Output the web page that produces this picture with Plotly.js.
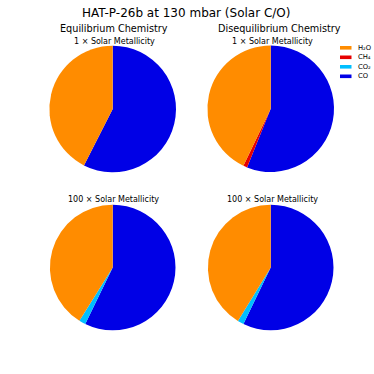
<!DOCTYPE html>
<html>
<head>
<meta charset="utf-8">
<script src="https://cdn.plot.ly/plotly-3.0.1.min.js"></script>
<style>html,body{margin:0;padding:0;background:#fff;}#chart{width:374px;height:374px;}</style>
</head>
<body>
<div id="chart"></div>
<script>
const species = ["H₂O", "CH₄", "CO₂", "CO"];
const colors = ["#ff8c00", "#e60000", "#00bfff", "#0000e6"];
const eq1x = [0.425, 0.0, 0.0, 0.575];
const diseq1x = [0.429, 0.010, 0.0, 0.561];
const eq100x = [0.411, 0.0, 0.017, 0.572];
const diseq100x = [0.4125, 0.0, 0.016, 0.5715];
const columnTitles = ["Equilibrium Chemistry", "Disequilibrium Chemistry"];
const rowTitles = ["1 × Solar Metallicity", "100 × Solar Metallicity"];
const mainTitle = "HAT-P-26b at 130 mbar (Solar C/O)";

const W = 374, H = 374;
function dom(cx, cy, r) {
  return {x: [(cx - r) / W, (cx + r) / W], y: [(H - cy - r) / H, (H - cy + r) / H]};
}
const pies = [
  {v: eq1x, d: dom(112.7, 109, 63.3)},
  {v: diseq1x, d: dom(270.7, 108.7, 63.3)},
  {v: eq100x, d: dom(112.7, 267.5, 62.8)},
  {v: diseq100x, d: dom(270.7, 267.5, 62.8)}
];
// Drawn clockwise with the species order reversed, which gives H2O counter-clockwise from 12 o'clock
const rev = a => a.slice().reverse();
const data = pies.map((p) => ({
  type: "pie",
  labels: rev(species),
  values: rev(p.v),
  domain: p.d,
  sort: false,
  direction: "clockwise",
  rotation: 0,
  textinfo: "none",
  hoverinfo: "label+percent",
  marker: {colors: rev(colors), line: {width: 0}},
  showlegend: false
}));

function ann(text, x, y, size, anchor) {
  return {text: text, x: x / W, y: 1 - y / H, xref: "paper", yref: "paper",
    xanchor: anchor || "center", yanchor: "middle", showarrow: false,
    font: {family: "DejaVu Sans", size: size, color: "#000"}};
}
const annotations = [
  ann(mainTitle, 186.5, 12.5, 12),
  ann(columnTitles[0], 113.5, 28.5, 9.7),
  ann(columnTitles[1], 279.5, 28.5, 9.7),
  ann(rowTitles[0], 114, 41.5, 8),
  ann(rowTitles[0], 272, 41.5, 8),
  ann(rowTitles[1], 113, 199, 8),
  ann(rowTitles[1], 272, 199, 8)
];
// legend (matplotlib style: wide flat patches)
const shapes = [];
species.forEach((s, i) => {
  const yc = 47.8 + i * 9.5;
  shapes.push({type: "rect", xref: "paper", yref: "paper",
    x0: 340 / W, x1: 351.5 / W, y0: 1 - (yc - 1.8) / H, y1: 1 - (yc + 1.8) / H,
    fillcolor: colors[i], line: {width: 0}});
  annotations.push(ann(s, 355.5, yc, 6.8, "left"));
});

const layout = {
  width: W, height: H,
  margin: {l: 0, r: 0, t: 0, b: 0},
  paper_bgcolor: "#fff",
  font: {family: "DejaVu Sans", size: 7, color: "#000"},
  annotations: annotations,
  shapes: shapes,
  showlegend: false
};
Plotly.newPlot("chart", data, layout, {staticPlot: true});
</script>
</body>
</html>
